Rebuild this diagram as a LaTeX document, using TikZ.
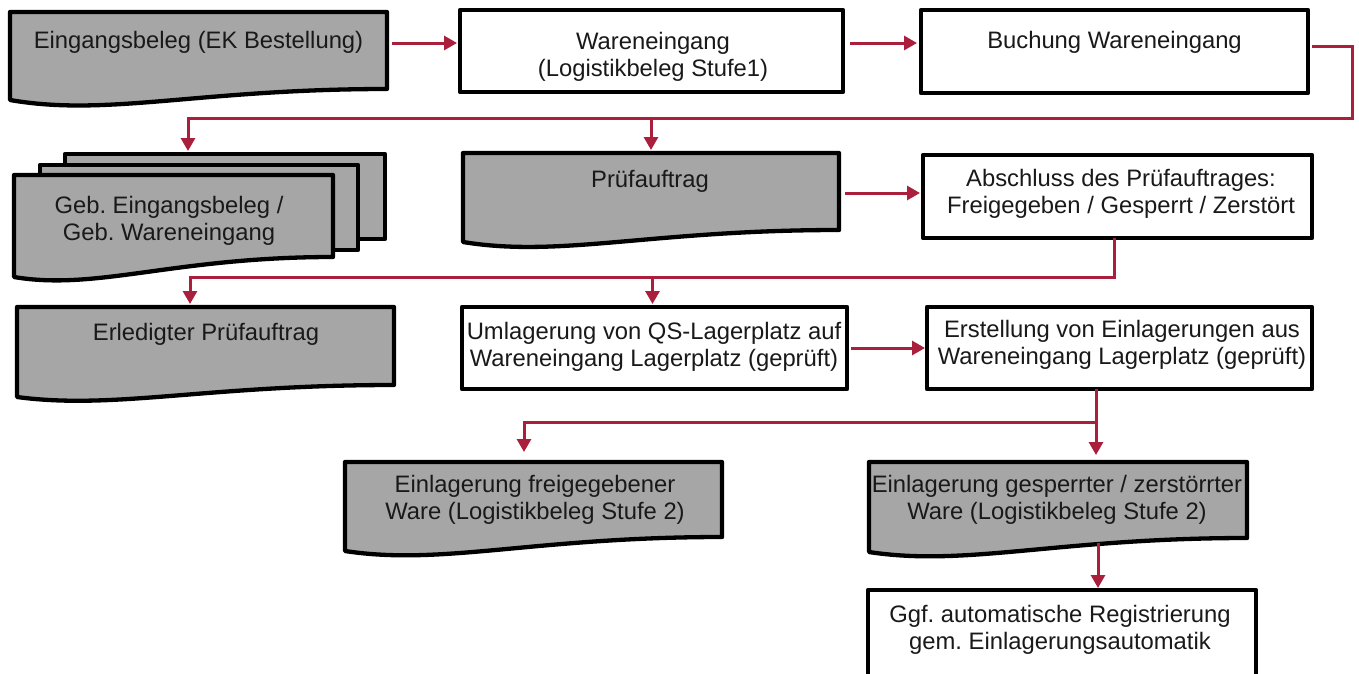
\documentclass[tikz,border=0pt]{standalone}
\usepackage{fontspec}
\setmainfont{Liberation Sans}
\usetikzlibrary{arrows.meta,calc}
\definecolor{flowred}{RGB}{170,32,60}
\definecolor{docgray}{RGB}{166,166,166}
\definecolor{ink}{RGB}{25,25,25}
\frenchspacing

% document symbol: flat top, wavy bottom (#1 node, #2 drop at left, #3 wave depth)
\newcommand\docoutline[3]{%
  \draw[boxline, fill=docgray] (#1.north west) -- (#1.north east) -- (#1.south east)
    .. controls ($(#1.south west)!0.5!(#1.south east)$)
    and ($(#1.south west)!0.26!(#1.south east)+(0,#2+#3)$)
    .. ($(#1.south west)+(0,#2)$) -- cycle;}

\begin{document}
\begin{tikzpicture}[x=1pt,y=-1pt,
  boxline/.style={draw=black, line width=4.3pt, line join=round},
  procbox/.style={boxline, fill=white, rectangle, inner sep=0pt, outer sep=0pt, anchor=north west},
  sheetbox/.style={boxline, fill=docgray, rectangle, inner sep=0pt, outer sep=0pt, anchor=north west},
  docarea/.style={rectangle, draw=none, inner sep=0pt, outer sep=0pt, anchor=north west},
  doctext/.style={anchor=north, inner sep=0pt, outer sep=0pt, align=center, text=ink,
    font=\fontsize{23.8}{26.6}\selectfont},
  flow/.style={draw=flowred, line width=3pt, -{Triangle[length=13pt,width=14pt]}},
]
\useasboundingbox (0,0) rectangle (1359,673);
\clip (0,0) rectangle (1359,673);

% ---- first row
\node[docarea, minimum width=377pt, minimum height=77pt] (b1) at (10,12) {};
\docoutline{b1}{11}{17}
\node[doctext] (t1) at (198.5,31.6) {Eingangsbeleg (EK Bestellung)};

\node[procbox, minimum width=383pt, minimum height=82pt] (b2) at (460,10) {};
\node[doctext] (t2) at (653,32.6) {Wareneingang\\(Logistikbeleg Stufe1)};

\node[procbox, minimum width=387pt, minimum height=83pt] (b3) at (921,10) {};
\node[doctext] (t3) at (1114.5,31.6) {Buchung Wareneingang};

% ---- second row
\node[sheetbox, minimum width=320pt, minimum height=85pt] (b4c) at (65,154) {};
\node[sheetbox, minimum width=318pt, minimum height=85pt] (b4b) at (40,165) {};
\node[docarea, minimum width=319pt, minimum height=82pt] (b4) at (14,175) {};
\docoutline{b4}{20}{14}
\node[doctext] (t4) at (169,196.6) {Geb. Eingangsbeleg /\\Geb. Wareneingang};

\node[docarea, minimum width=376pt, minimum height=77pt] (b5) at (463,153) {};
\docoutline{b5}{12}{16}
\node[doctext] (t5) at (650,170.6) {Prüfauftrag};

\node[procbox, minimum width=389pt, minimum height=83pt] (b6) at (923,155) {};
\node[doctext] (t6) at (1121,169.6) {Abschluss des Prüfauftrages:\\Freigegeben / Gesperrt / Zerstört};

% ---- third row
\node[docarea, minimum width=377pt, minimum height=78pt] (b7) at (17,307) {};
\docoutline{b7}{12}{13}
\node[doctext] (t7) at (206,323.6) {Erledigter Prüfauftrag};

\node[procbox, minimum width=385pt, minimum height=82pt] (b8) at (462,307) {};
\node[doctext] (t8) at (654,322.6) {Umlagerung von QS-Lagerplatz auf\\Wareneingang Lagerplatz (geprüft)};

\node[procbox, minimum width=385pt, minimum height=82pt] (b9) at (927,307) {};
\node[doctext] (t9) at (1122,320.6) {Erstellung von Einlagerungen aus\\Wareneingang Lagerplatz (geprüft)};

% ---- fourth row
\node[docarea, minimum width=377pt, minimum height=75pt] (b10) at (345,462) {};
\docoutline{b10}{14}{15}
\node[doctext] (t10) at (535,475.6) {Einlagerung freigegebener\\Ware (Logistikbeleg Stufe 2)};

\node[docarea, minimum width=378pt, minimum height=76pt] (b11) at (869,462) {};
\docoutline{b11}{14}{15}
\node[doctext] (t11) at (1057,475.6) {Einlagerung gesperrter / zerstörrter\\Ware (Logistikbeleg Stufe 2)};

% ---- last box
\node[procbox, minimum width=388pt, minimum height=120pt] (b12) at (868,590) {};
\node[doctext] (t12) at (1060,605.6) {Ggf. automatische Registrierung\\gem. Einlagerungsautomatik};

% ---- connectors
\coordinate (k1) at (1352,118);
\coordinate (k2) at (1114,277);
\coordinate (k3) at (1096,422);

\draw[flow] ($(b1.east|-0,43)+(5,0)$) -- ($(b2.west|-0,43)+(-3,0)$);
\draw[flow] ($(b2.east|-0,43)+(7,0)$) -- ($(b3.west|-0,43)+(-4,0)$);

\draw[flow] ($(b3.east|-0,46)+(4,0)$) -| (k1) -| ($(b4c.north-|188,0)+(0,-3)$);
\draw[flow] (b5.north|-k1) -- ($(b5.north)+(0,-3)$);

\draw[flow] ($(b5.east|-0,193)+(6,0)$) -- ($(b6.west|-0,193)+(-3,0)$);

\draw[flow] (b6.south-|k2) -- (k2) -| ($(b7.north-|190,0)+(0,-3)$);
\draw[flow] ($(b8.north|-k2)+(-2,0)$) -- ($(b8.north)+(-2,-3)$);

\draw[flow] ($(b8.east|-0,348)+(4,0)$) -- ($(b9.west|-0,348)+(-2,0)$);

\draw[flow] (b9.south-|k3) -- ($(b11.north-|k3)+(0,-7)$);
\draw[flow] (k3) -| ($(b10.north-|524,0)+(0,-10)$);

\draw[flow] ($(b11.south-|1098,0)+(0,5)$) -- ($(b12.north-|1098,0)+(0,-2)$);
\end{tikzpicture}
\end{document}
